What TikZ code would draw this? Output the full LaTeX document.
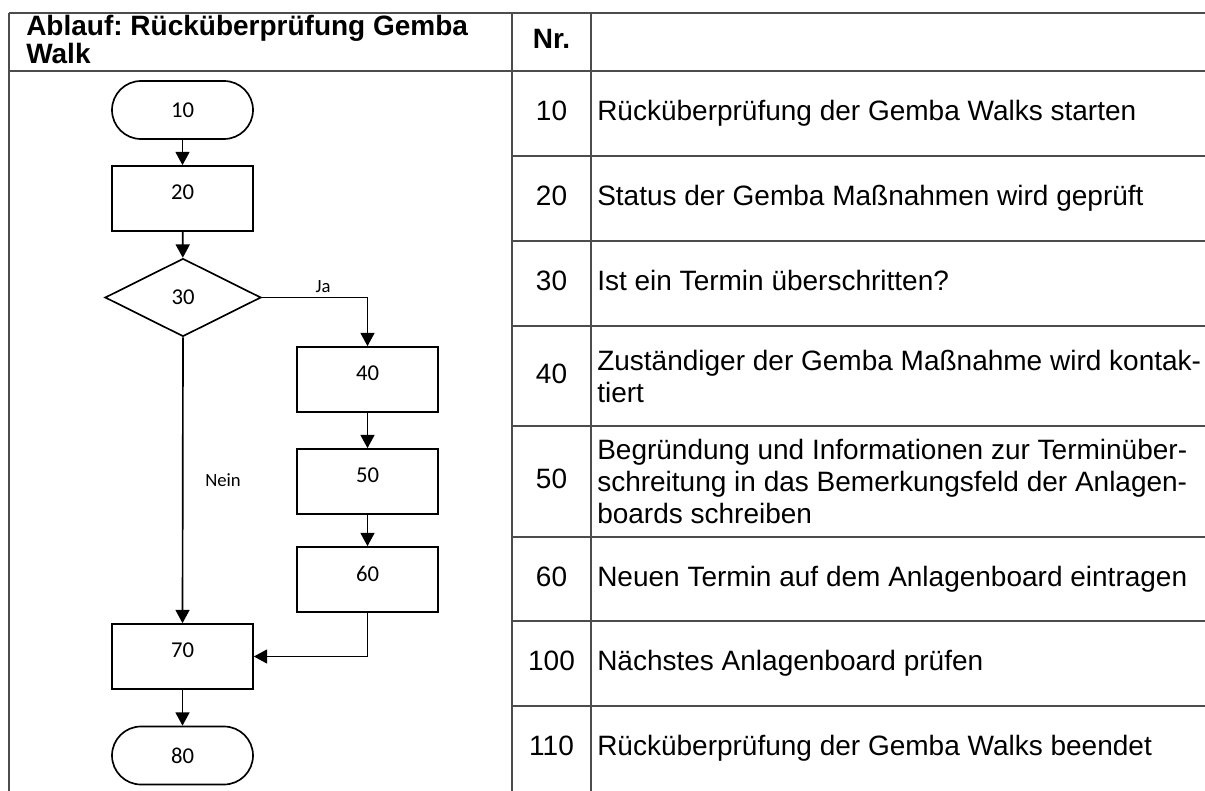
\documentclass[tikz,border=0pt]{standalone}
\usepackage{fontspec}
\setmainfont{Liberation Sans}
\newfontfamily\flowfont{Carlito}
\usetikzlibrary{arrows.meta,shapes.geometric,positioning}
\frenchspacing

\tikzset{
  flow/.style={draw, line width=1.25pt, inner sep=0pt, minimum width=105.75pt, font=\flowfont\fontsize{17}{19}\selectfont},
  proc/.style={flow, rectangle, minimum height=48.75pt, text depth=9pt},
  term/.style={flow, rectangle, rounded corners=21.75pt, minimum height=43.5pt},
  decide/.style={flow, diamond, aspect=2, minimum width=117pt, minimum height=58.5pt},
  arr/.style={line width=1.25pt, -{Triangle[length=10pt,width=10.5pt]}},
  edgelbl/.style={font=\flowfont\fontsize{14}{16}\selectfont},
  grid/.style={line width=1pt, black!70},
  headtxt/.style={anchor=base west, inner sep=0pt, font=\bfseries\fontsize{21}{24}\selectfont},
  celltxt/.style={anchor=west, align=left, inner sep=0pt, font=\fontsize{21}{24}\selectfont},
  cellline/.style={anchor=west, inner sep=0pt, text height=15pt, text depth=4.5pt, font=\fontsize{21}{24}\selectfont},
  cellnr/.style={inner sep=0pt, text height=15pt, text depth=4.5pt, font=\fontsize{21}{24}\selectfont}
}

\begin{document}
\begin{tikzpicture}[x=0.75pt,y=0.75pt,yscale=-1,xscale=1]
\useasboundingbox (0,0) rectangle (1205,791);
%Table Lines
\draw[grid] (9,13) -- (1205,13) ;
\draw[grid] (9,71) -- (1205,71) ;
\draw[grid] (9,13) -- (9,791) ;
\draw[grid] (512,13) -- (512,791) ;
\draw[grid] (591,13) -- (591,791) ;
\draw[grid] (512,156) -- (1205,156) ;
\draw[grid] (512,241) -- (1205,241) ;
\draw[grid] (512,326) -- (1205,326) ;
\draw[grid] (512,426) -- (1205,426) ;
\draw[grid] (512,537) -- (1205,537) ;
\draw[grid] (512,621) -- (1205,621) ;
\draw[grid] (512,706) -- (1205,706) ;
% Header
\node[headtxt] (head1) at (26,36) {Ablauf: Rücküberprüfung Gemba};
\node[headtxt] (head2) at (26,63.5) {Walk};
\node[cellnr, font=\bfseries\fontsize{21}{24}\selectfont] (nrhead) at (551.5,42) {Nr.};
%Flowchart
\node[term] (t10) at (182.5,110) {10};
\node[proc] (b20) at (182.5,198.5) {20};
\node[decide] (d30) at (183,297.5) {30};
\node[proc] (b40) at (367.5,379.5) {40};
\node[proc] (b50) at (367.5,481.5) {50};
\node[proc] (b60) at (367.5,579.5) {60};
\node[proc] (b70) at (182.5,656.5) {70};
\node[term] (t80) at (182.5,755.5) {80};
%Connectors
\draw[arr] (t10) -- (b20) ;
\draw[arr] (b20) -- (d30) ;
\draw[arr] (d30.east) -| node[edgelbl, above, pos=0.29] {Ja} (b40) ;
\draw[arr] (b40) -- (b50) ;
\draw[arr] (b50) -- (b60) ;
\draw[arr] (b60.south) |- (b70.east) ;
\draw[arr] (d30.south) -- node[edgelbl, right=13pt] {Nein} (b70.north) ;
\draw[arr] (b70) -- (t80) ;
%Table Text
\node[cellnr] (nr10) at (551.5,113.5) {10};
\node[cellline] (txt10) at (597,113.5) {Rücküberprüfung der Gemba Walks starten};
\node[cellnr] (nr20) at (551.5,198.5) {20};
\node[cellline] (txt20) at (597,198.5) {Status der Gemba Maßnahmen wird geprüft};
\node[cellnr] (nr30) at (551.5,283.5) {30};
\node[cellline] (txt30) at (597,283.5) {Ist ein Termin überschritten?};
\node[cellnr] (nr40) at (551.5,376) {40};
\node[celltxt] (txt40) at (597,376) {Zuständiger der Gemba Maßnahme wird kontak-\\tiert};
\node[cellnr] (nr50) at (551.5,481.5) {50};
\node[celltxt] (txt50) at (597,481.5) {Begründung und Informationen zur Terminüber-\\schreitung in das Bemerkungsfeld der Anlagen-\\boards schreiben};
\node[cellnr] (nr60) at (551.5,579) {60};
\node[cellline] (txt60) at (597,579) {Neuen Termin auf dem Anlagenboard eintragen};
\node[cellnr] (nr100) at (551.5,663.5) {100};
\node[cellline] (txt100) at (597,663.5) {Nächstes Anlagenboard prüfen};
\node[cellnr] (nr110) at (551.5,748.5) {110};
\node[cellline] (txt110) at (597,748.5) {Rücküberprüfung der Gemba Walks beendet};
\end{tikzpicture}
\end{document}
